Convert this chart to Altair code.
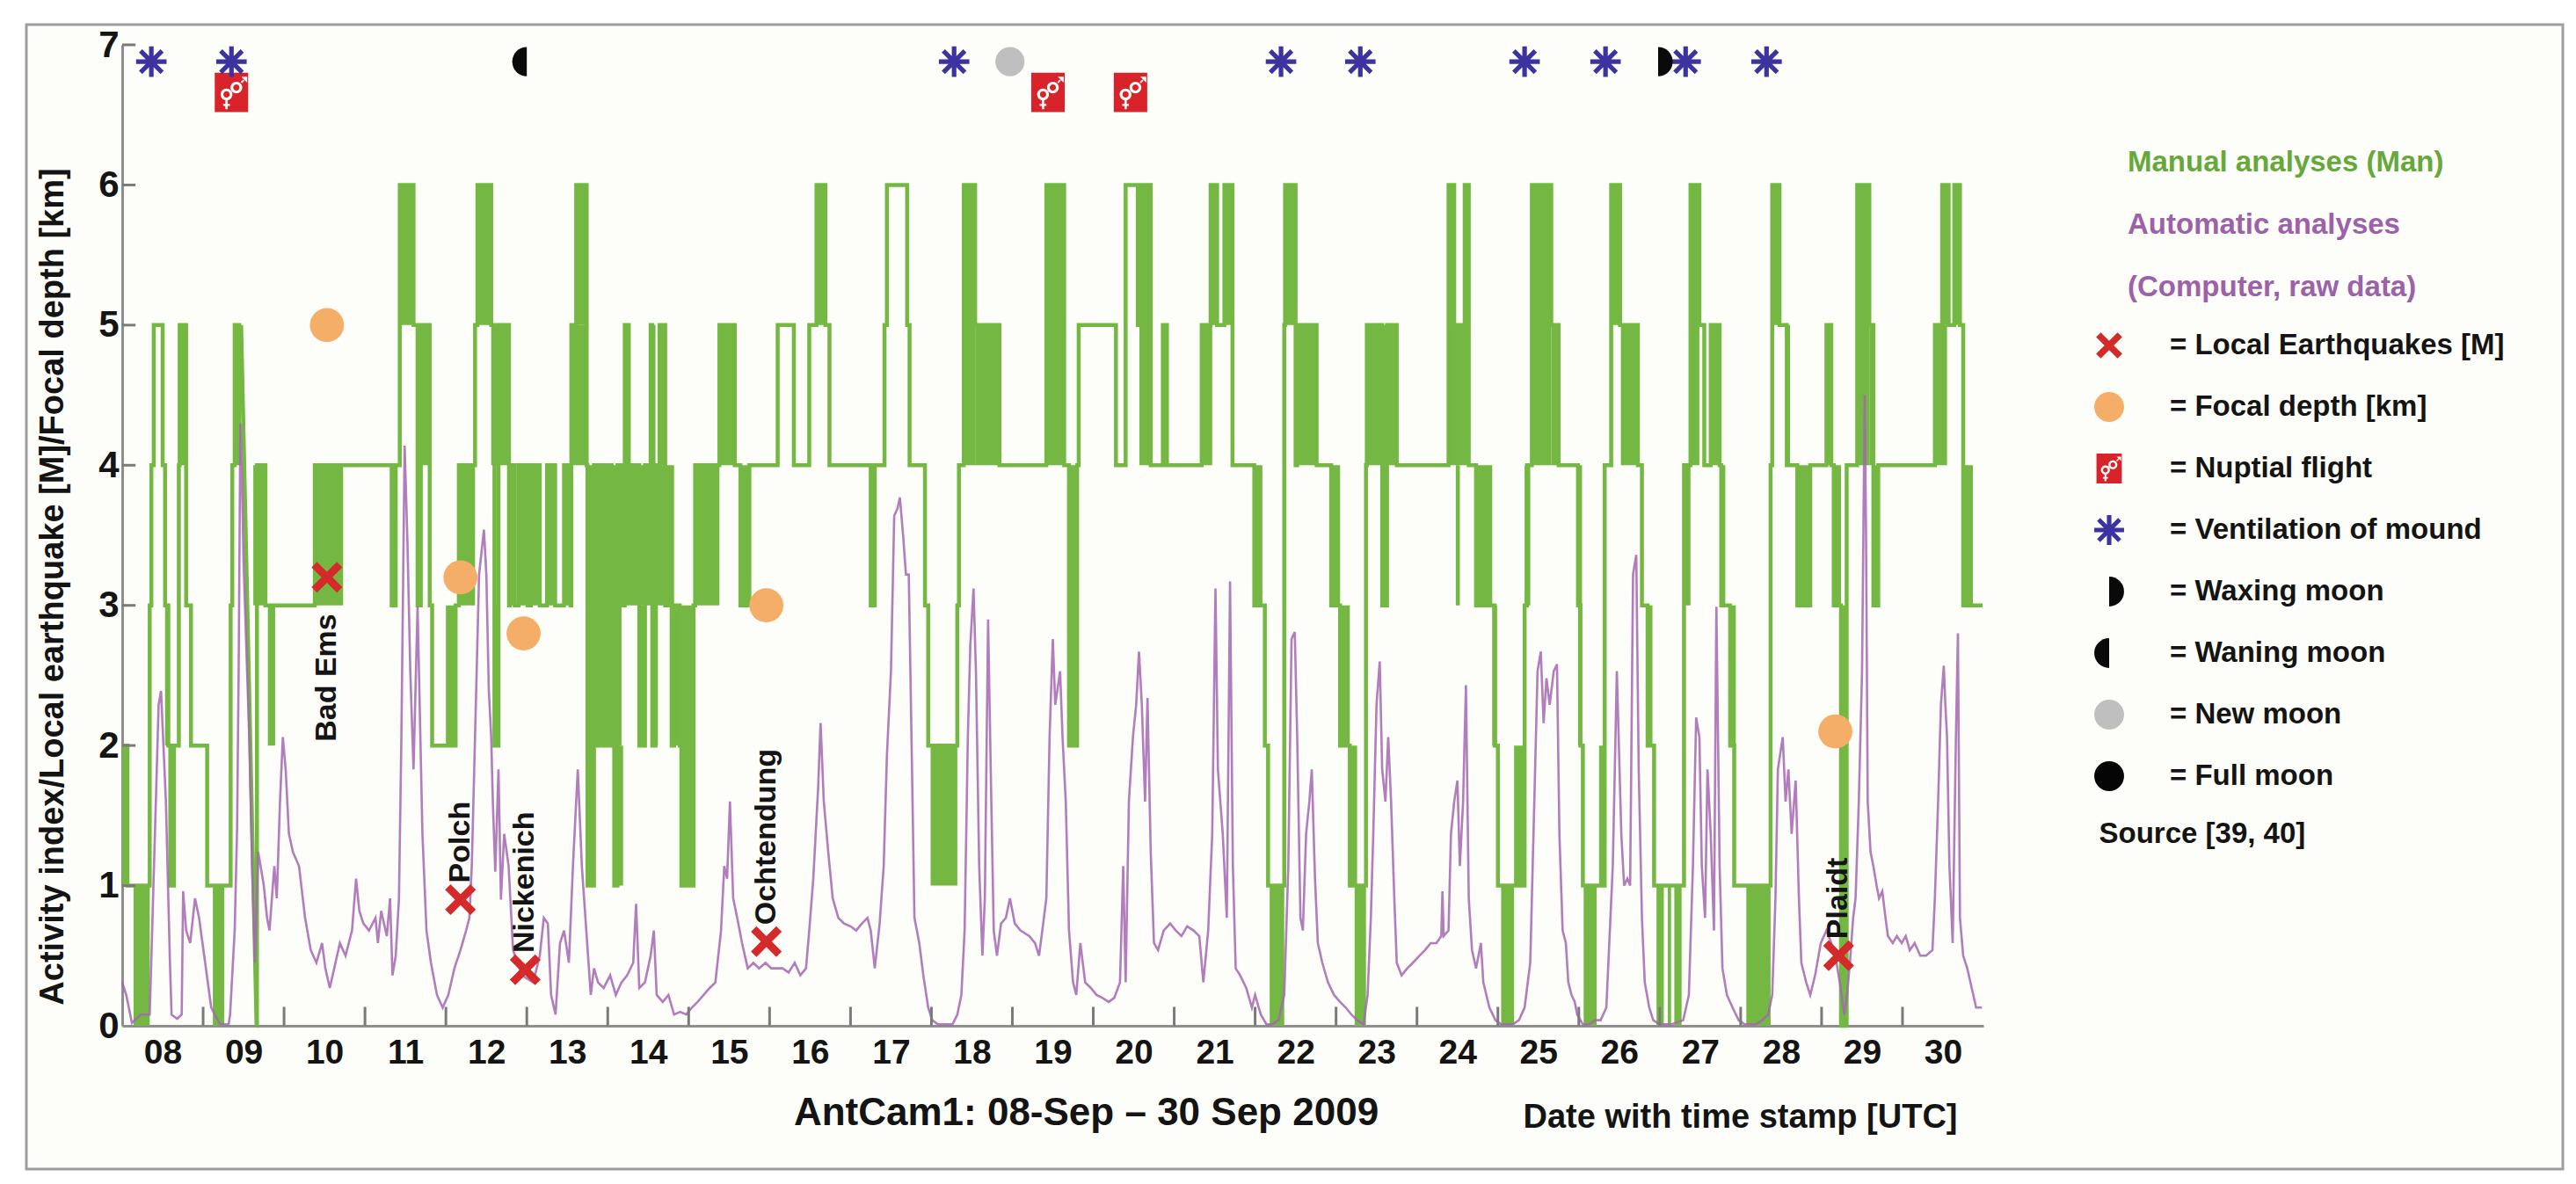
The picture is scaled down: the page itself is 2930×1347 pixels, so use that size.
import altair as alt
import pandas as pd

FONT = "Liberation Sans, Arial, Helvetica, sans-serif"
GREEN = "#74b843"
PURPLE = "#a466b1"
GREEN_TXT = "#67a83b"
PURPLE_TXT = "#9c62a9"
INK = "#141414"
GREY = "#8e8e8e"
TICK_GREY = "#7a7a7a"

# ---------------- data (x = day of September 2009, fractional) ----------------
# Manual analyses: change points of the step curve (day, level)
MAN_A = [(8.00, 2), (8.065, 1), (8.34, 3), (8.36, 4), (8.39, 5), (8.50, 4), (8.53, 3),
         (8.57, 2), (8.60, 1), (8.64, 2), (8.70, 4), (8.71, 5), (8.79, 3), (8.85, 2),
         (9.05, 1), (9.34, 3), (9.36, 4), (9.39, 5), (9.47, 5)]
MAN_RAMP = [(9.47, 5), (9.66, 0)]
MAN_B = [(9.66, 0), (9.665, 4), (9.77, 3), (10.38, 4), (11.33, 3), (11.38, 4), (11.43, 6),
         (11.60, 5), (11.65, 3), (11.69, 5), (11.80, 3), (11.83, 2), (12.12, 3), (12.16, 4),
         (12.36, 5), (12.39, 6), (12.56, 5), (12.60, 2), (12.65, 5), (12.78, 3), (12.79, 4),
         (12.85, 3), (12.90, 4), (13.01, 3), (13.05, 4), (13.16, 3), (13.25, 4), (13.35, 3),
         (13.46, 4), (13.54, 3), (13.55, 5), (13.61, 6), (13.74, 4), (13.75, 1), (13.83, 4),
         (13.86, 2), (13.90, 4), (13.95, 2), (14.00, 4), (14.05, 2), (14.08, 1), (14.12, 4),
         (14.17, 3), (14.21, 5), (14.26, 4), (14.39, 2), (14.46, 4), (14.53, 5), (14.55, 2),
         (14.59, 4), (14.64, 5), (14.71, 3), (14.79, 2), (14.82, 3), (14.89, 2), (14.91, 1),
         (15.06, 3), (15.08, 4), (15.38, 5), (15.57, 4), (15.64, 3), (15.75, 4), (16.10, 5),
         (16.30, 4), (16.49, 5), (16.58, 6), (16.69, 5), (16.74, 4), (17.25, 3), (17.30, 4),
         (17.42, 5), (17.45, 6), (17.70, 5), (17.73, 4), (17.92, 3), (17.96, 2), (18.32, 3),
         (18.34, 4), (18.40, 6), (18.54, 5), (18.84, 4), (19.42, 6), (19.64, 4), (19.70, 2),
         (19.80, 4), (19.82, 5), (20.28, 4), (20.40, 6), (20.55, 5), (20.58, 6), (20.71, 4),
         (20.86, 5), (20.91, 4), (21.34, 5), (21.45, 6), (21.53, 5), (21.62, 6), (21.72, 4),
         (21.99, 3), (22.12, 2), (22.16, 1), (22.36, 5), (22.37, 6), (22.50, 4), (22.52, 5),
         (22.76, 4), (22.94, 3), (23.05, 2), (23.17, 1), (23.37, 4), (23.38, 5), (23.57, 3),
         (23.63, 5), (23.75, 4), (24.39, 6), (24.46, 5), (24.59, 6), (24.64, 4), (24.73, 3),
         (24.96, 2), (25.00, 1), (25.33, 3), (25.36, 4), (25.42, 6), (25.66, 5), (25.75, 4),
         (25.99, 3), (26.02, 2), (26.05, 1), (26.32, 4), (26.40, 6), (26.51, 5), (26.73, 4),
         (26.78, 3), (26.85, 2), (26.93, 1), (27.30, 4), (27.38, 6), (27.49, 5), (27.55, 4),
         (27.63, 5), (27.74, 4), (27.76, 3), (27.87, 2), (27.92, 1), (28.37, 4), (28.39, 6),
         (28.48, 5), (28.57, 4), (28.70, 3), (28.86, 4), (29.06, 5), (29.12, 4), (29.15, 3),
         (29.24, 0), (29.31, 4), (29.44, 6), (29.59, 5), (29.64, 3), (29.70, 4), (30.40, 5),
         (30.49, 6), (30.57, 5), (30.64, 6), (30.71, 5), (30.75, 3), (30.99, 3)]
# Manual analyses: stretches of rapid switching between two levels (start, end, low, high)
MAN_BANDS = [(8.00, 8.065, 1, 2), (8.14, 8.34, 0, 1), (8.53, 8.58, 2, 3), (8.57, 8.64, 1, 2),
             (8.71, 8.79, 4, 5), (9.12, 9.26, 0, 1), (9.39, 9.47, 4, 5), (9.62, 9.77, 3, 4),
             (9.80, 9.89, 2, 3), (10.38, 10.73, 3, 4), (11.33, 11.38, 3, 4), (11.43, 11.60, 5, 6),
             (11.65, 11.69, 3, 4), (11.69, 11.80, 4, 5), (12.00, 12.12, 2, 3), (12.16, 12.36, 3, 4),
             (12.39, 12.56, 5, 6), (12.56, 12.78, 4, 5), (12.60, 12.65, 2, 3), (12.79, 12.85, 3, 4),
             (12.90, 13.01, 3, 4), (13.05, 13.16, 3, 4), (13.25, 13.35, 3, 4), (13.46, 13.54, 3, 4),
             (13.55, 13.74, 4, 5), (13.61, 13.74, 5, 6), (13.75, 13.83, 1, 4), (13.83, 14.17, 2, 4),
             (14.08, 14.19, 1, 2), (14.17, 14.82, 3, 4), (14.21, 14.26, 4, 5), (14.39, 14.46, 2, 3),
             (14.53, 14.59, 4, 5), (14.55, 14.62, 2, 3), (14.64, 14.71, 4, 5), (14.79, 14.89, 2, 3),
             (14.91, 15.06, 1, 3), (15.08, 15.38, 3, 4), (15.38, 15.57, 4, 5), (15.64, 15.75, 3, 4),
             (16.58, 16.69, 5, 6), (17.25, 17.30, 3, 4), (17.99, 18.32, 1, 2), (18.40, 18.54, 4, 6),
             (18.54, 18.84, 4, 5), (19.42, 19.64, 4, 6), (19.70, 19.80, 2, 4), (20.57, 20.70, 4, 6),
             (20.86, 20.91, 4, 5), (21.34, 21.47, 4, 5), (21.45, 21.53, 5, 6), (21.62, 21.72, 5, 6),
             (21.99, 22.09, 3, 4), (22.18, 22.36, 0, 1), (22.36, 22.50, 5, 6), (22.52, 22.76, 4, 5),
             (22.94, 23.05, 3, 4), (23.05, 23.17, 2, 3), (23.15, 23.26, 1, 2), (23.23, 23.37, 0, 1),
             (23.38, 23.75, 4, 5), (23.57, 23.63, 3, 4), (24.39, 24.46, 4, 6), (24.46, 24.64, 4, 5),
             (24.59, 24.64, 5, 6), (24.48, 24.53, 3, 4), (24.73, 24.93, 3, 4), (24.93, 24.99, 2, 3),
             (25.04, 25.20, 0, 1), (25.20, 25.33, 1, 2), (25.33, 25.40, 3, 4), (25.42, 25.66, 4, 6),
             (25.66, 25.75, 4, 5), (25.99, 26.04, 2, 4), (26.06, 26.22, 0, 1), (26.25, 26.32, 1, 2),
             (26.40, 26.51, 5, 6), (26.52, 26.73, 4, 5), (26.85, 26.91, 2, 3), (26.96, 27.05, 0, 1),
             (27.10, 27.14, 0, 1), (27.18, 27.27, 0, 1), (27.30, 27.38, 3, 4), (27.38, 27.49, 4, 6),
             (27.63, 27.74, 4, 5), (27.76, 27.81, 3, 4), (27.87, 27.94, 2, 3), (28.07, 28.37, 0, 1),
             (28.37, 28.39, 3, 4), (28.39, 28.48, 5, 6), (28.57, 28.61, 4, 5), (28.70, 28.86, 3, 4),
             (29.06, 29.12, 4, 5), (29.15, 29.24, 3, 4), (29.24, 29.31, 0, 3), (29.44, 29.59, 4, 6),
             (29.59, 29.64, 4, 5), (29.64, 29.70, 3, 4), (30.40, 30.55, 4, 5), (30.49, 30.57, 5, 6),
             (30.64, 30.71, 5, 6), (30.75, 30.87, 3, 4)]

# Automatic analyses (computer, raw data): (day, activity index)
AUTO = [(8.00, 0.31), (8.05, 0.22), (8.12, 0.02), (8.23, 0.08), (8.34, 0.08), (8.37, 0.68), (8.45, 2.29),
        (8.48, 2.39), (8.54, 1.60), (8.59, 0.45), (8.61, 0.08), (8.68, 0.05), (8.735, 0.08), (8.753, 0.96),
        (8.79, 0.68), (8.84, 0.59), (8.90, 0.91), (8.95, 0.77), (9.025, 0.45), (9.10, 0.13), (9.21, 0.01),
        (9.315, 0.01), (9.333, 0.08), (9.39, 0.68), (9.42, 1.42), (9.44, 2.6), (9.46, 4.3), (9.48, 3.9),
        (9.50, 3.3), (9.57, 2.06), (9.605, 1.14), (9.64, 0.45), (9.68, 1.24), (9.71, 1.14), (9.75, 1.0),
        (9.79, 0.77), (9.82, 0.68), (9.88, 1.14), (9.91, 0.91), (9.95, 1.60), (9.985, 2.06), (10.02, 1.83),
        (10.06, 1.37), (10.11, 1.24), (10.185, 1.14), (10.26, 0.77), (10.33, 0.54), (10.40, 0.45),
        (10.47, 0.59), (10.51, 0.41), (10.565, 0.27), (10.62, 0.41), (10.69, 0.59), (10.76, 0.50),
        (10.84, 0.68), (10.89, 1.05), (10.93, 0.82), (10.98, 0.73), (11.05, 0.68), (11.13, 0.77),
        (11.16, 0.59), (11.20, 0.82), (11.27, 0.64), (11.31, 0.91), (11.34, 0.36), (11.38, 0.50),
        (11.42, 0.91), (11.45, 2.06), (11.49, 4.14), (11.525, 3.45), (11.56, 2.53), (11.60, 1.83),
        (11.65, 2.99), (11.71, 1.37), (11.76, 0.68), (11.815, 0.45), (11.89, 0.22), (11.96, 0.13),
        (12.03, 0.22), (12.105, 0.41), (12.18, 0.54), (12.25, 0.68), (12.29, 0.77), (12.32, 1.14),
        (12.36, 2.06), (12.41, 3.22), (12.47, 3.54), (12.50, 3.22), (12.53, 2.40), (12.56, 2.06),
        (12.58, 1.60), (12.61, 1.10), (12.65, 1.83), (12.68, 0.90), (12.72, 1.37), (12.775, 1.14),
        (12.83, 0.54), (12.94, 0.36), (13.08, 0.31), (13.16, 0.50), (13.21, 0.77), (13.26, 0.73),
        (13.30, 0.22), (13.355, 0.08), (13.41, 0.59), (13.46, 0.68), (13.52, 0.45), (13.57, 1.14),
        (13.63, 1.83), (13.68, 1.14), (13.735, 0.68), (13.79, 0.22), (13.83, 0.41), (13.88, 0.31),
        (13.95, 0.27), (14.03, 0.36), (14.10, 0.22), (14.17, 0.31), (14.24, 0.36), (14.315, 0.45),
        (14.35, 0.87), (14.39, 0.27), (14.46, 0.31), (14.53, 0.50), (14.57, 0.68), (14.605, 0.22),
        (14.68, 0.17), (14.75, 0.22), (14.82, 0.08), (14.895, 0.10), (14.97, 0.08), (15.04, 0.13),
        (15.11, 0.17), (15.185, 0.22), (15.26, 0.27), (15.33, 0.31), (15.40, 0.68), (15.44, 1.14),
        (15.475, 1.05), (15.51, 1.60), (15.55, 0.91), (15.60, 0.77), (15.66, 0.59), (15.73, 0.41),
        (15.80, 0.45), (15.87, 0.41), (15.95, 0.45), (16.02, 0.41), (16.09, 0.41), (16.16, 0.41),
        (16.235, 0.38), (16.31, 0.45), (16.38, 0.36), (16.45, 0.41), (16.49, 0.68), (16.54, 1.05),
        (16.60, 1.70), (16.63, 2.16), (16.67, 1.60), (16.725, 1.24), (16.78, 0.91), (16.85, 0.77),
        (16.92, 0.73), (17.00, 0.71), (17.07, 0.68), (17.14, 0.73), (17.21, 0.77), (17.25, 0.68),
        (17.30, 0.41), (17.36, 0.73), (17.41, 1.14), (17.45, 1.93), (17.50, 2.53), (17.54, 3.64),
        (17.58, 3.69), (17.61, 3.77), (17.65, 3.50), (17.685, 3.22), (17.72, 3.22), (17.76, 1.83),
        (17.79, 0.77), (17.85, 0.59), (17.90, 0.36), (17.96, 0.13), (18.01, 0.04), (18.08, 0.01),
        (18.19, 0.01), (18.26, 0.01), (18.32, 0.08), (18.37, 0.22), (18.41, 0.68), (18.45, 2.06),
        (18.48, 2.71), (18.52, 3.12), (18.55, 2.53), (18.59, 1.14), (18.63, 0.50), (18.66, 0.91),
        (18.70, 2.90), (18.74, 1.60), (18.77, 0.68), (18.81, 0.50), (18.86, 0.73), (18.92, 0.77),
        (18.97, 0.91), (19.03, 0.73), (19.10, 0.68), (19.21, 0.64), (19.28, 0.59), (19.33, 0.50),
        (19.37, 0.68), (19.42, 0.91), (19.46, 2.06), (19.50, 2.76), (19.53, 2.29), (19.59, 2.53),
        (19.62, 2.06), (19.66, 1.60), (19.70, 0.68), (19.75, 0.31), (19.79, 0.22), (19.84, 0.59),
        (19.90, 0.31), (19.97, 0.27), (20.04, 0.22), (20.11, 0.20), (20.19, 0.17), (20.26, 0.20),
        (20.33, 0.31), (20.37, 1.14), (20.40, 0.31), (20.44, 1.60), (20.49, 2.06), (20.53, 2.29),
        (20.565, 2.67), (20.60, 2.29), (20.64, 1.60), (20.67, 2.34), (20.71, 1.24), (20.75, 0.59),
        (20.80, 0.54), (20.87, 0.68), (20.95, 0.73), (21.02, 0.68), (21.09, 0.64), (21.16, 0.71),
        (21.24, 0.68), (21.31, 0.64), (21.36, 0.31), (21.42, 0.68), (21.47, 1.37), (21.51, 3.12),
        (21.54, 1.83), (21.60, 1.37), (21.65, 0.77), (21.69, 3.17), (21.725, 1.14), (21.76, 0.41),
        (21.815, 0.36), (21.89, 0.27), (21.96, 0.13), (22.00, 0.22), (22.07, 0.08), (22.14, 0.01),
        (22.21, 0.01), (22.29, 0.04), (22.36, 0.22), (22.41, 1.14), (22.45, 2.76), (22.49, 2.81),
        (22.52, 2.06), (22.56, 0.77), (22.59, 0.68), (22.63, 1.37), (22.67, 1.60), (22.70, 1.83),
        (22.74, 1.05), (22.775, 0.59), (22.83, 0.45), (22.90, 0.31), (22.975, 0.22), (23.05, 0.17),
        (23.12, 0.13), (23.19, 0.08), (23.26, 0.04), (23.34, 0.01), (23.39, 0.22), (23.43, 0.77),
        (23.46, 1.37), (23.50, 2.29), (23.54, 2.60), (23.57, 1.83), (23.61, 1.60), (23.645, 2.06),
        (23.68, 1.60), (23.72, 0.91), (23.75, 0.45), (23.81, 0.36), (23.88, 0.41), (23.95, 0.45),
        (24.03, 0.50), (24.10, 0.54), (24.17, 0.59), (24.24, 0.59), (24.30, 0.64), (24.315, 0.96),
        (24.33, 0.64), (24.39, 0.68), (24.42, 1.37), (24.46, 1.60), (24.50, 1.75), (24.53, 1.14),
        (24.57, 1.60), (24.605, 2.43), (24.64, 0.91), (24.68, 0.54), (24.73, 0.41), (24.79, 0.59),
        (24.82, 0.31), (24.895, 0.13), (24.97, 0.04), (25.04, 0.01), (25.11, 0.01), (25.185, 0.01),
        (25.26, 0.04), (25.33, 0.13), (25.40, 0.45), (25.46, 1.83), (25.49, 2.53), (25.53, 2.67),
        (25.565, 2.16), (25.60, 2.48), (25.64, 2.29), (25.69, 2.53), (25.73, 2.58), (25.76, 1.37),
        (25.80, 0.68), (25.84, 0.59), (25.87, 0.31), (25.91, 0.22), (25.95, 0.17), (25.98, 0.08),
        (26.05, 0.01), (26.13, 0.01), (26.20, 0.04), (26.27, 0.04), (26.34, 0.13), (26.42, 1.14),
        (26.47, 2.53), (26.525, 1.37), (26.56, 1.00), (26.60, 1.05), (26.634, 1.00), (26.67, 3.22),
        (26.71, 3.36), (26.74, 1.83), (26.78, 0.77), (26.815, 0.31), (26.87, 0.13), (26.92, 0.04),
        (27.00, 0.01), (27.14, 0.01), (27.29, 0.04), (27.36, 0.22), (27.41, 1.14), (27.45, 2.20),
        (27.49, 2.06), (27.52, 1.14), (27.56, 0.77), (27.59, 1.83), (27.63, 1.37), (27.67, 0.68),
        (27.70, 2.99), (27.74, 1.14), (27.775, 0.41), (27.83, 0.22), (27.90, 0.13), (27.975, 0.04),
        (28.05, 0.01), (28.19, 0.01), (28.265, 0.04), (28.34, 0.08), (28.39, 0.22), (28.43, 0.91),
        (28.46, 1.83), (28.52, 2.06), (28.555, 1.60), (28.59, 1.83), (28.63, 1.37), (28.68, 1.75),
        (28.72, 0.91), (28.75, 0.45), (28.81, 0.31), (28.86, 0.22), (28.92, 0.36), (28.99, 0.59),
        (29.06, 0.68), (29.12, 0.59), (29.17, 0.50), (29.225, 0.31), (29.28, 0.08), (29.315, 0.22),
        (29.35, 0.45), (29.39, 0.77), (29.42, 0.91), (29.46, 1.60), (29.50, 2.53), (29.533, 4.50),
        (29.55, 3.45), (29.57, 1.60), (29.605, 1.24), (29.64, 1.14), (29.68, 1.00), (29.71, 0.91),
        (29.75, 0.96), (29.79, 0.77), (29.82, 0.64), (29.88, 0.59), (29.93, 0.64), (29.99, 0.59),
        (30.04, 0.64), (30.09, 0.54), (30.15, 0.59), (30.22, 0.50), (30.29, 0.50), (30.37, 0.54),
        (30.40, 0.91), (30.44, 1.60), (30.475, 2.29), (30.51, 2.57), (30.53, 2.29), (30.55, 2.06),
        (30.58, 1.14), (30.62, 0.59), (30.66, 2.06), (30.685, 2.80), (30.71, 0.77), (30.75, 0.50),
        (30.80, 0.41), (30.855, 0.27), (30.91, 0.13), (30.98, 0.13)]

QUAKE_SITE = ["Bad Ems", "Polch", "Nickenich", "Ochtendung", "Plaidt"]
QUAKE_T = [10.53, 12.18, 12.98, 15.96, 29.21]
QUAKE_M = [3.2, 0.9, 0.4, 0.6, 0.5]
QUAKE_LABEL_SIDE = ["below", "above", "above", "above", "above"]
DEPTH_T = [10.53, 12.18, 12.96, 15.96, 29.17]
DEPTH_KM = [5.0, 3.2, 2.8, 3.0, 2.1]
VENT_T = [8.36, 9.35, 18.28, 22.32, 23.30, 25.33, 26.33, 27.32, 28.32]
NUPTIAL_T = [9.35, 19.44, 20.46]
MOON_T = [13.0, 18.97, 26.98]
MOON_PHASE = ["= Waning moon", "= New moon", "= Waxing moon"]

SERIES = ["Manual analyses (Man)", "Automatic analyses", "(Computer, raw data)"]
KINDS = ["= Local Earthquakes [M]", "= Focal depth [km]", "= Nuptial flight",
         "= Ventilation of mound", "= Waxing moon", "= Waning moon", "= New moon", "= Full moon"]
DAY_TICKS = list(range(9, 31))
DAY_LABELS = [d + 0.5 for d in range(8, 31)]
Y_TICKS = list(range(0, 8))

# ---------------- symbols ----------------
XMARK = ("M-0.876,-0.564L-0.564,-0.876L0.876,0.564L0.564,0.876Z "
         "M-0.564,0.876L-0.876,0.564L0.564,-0.876L0.876,-0.564Z")
STAR = ("M-1,-0.15H1V0.15H-1Z M-0.15,-1H0.15V1H-0.15Z "
        "M-0.813,-0.601L-0.601,-0.813L0.813,0.601L0.601,0.813Z "
        "M-0.601,0.813L-0.813,0.601L0.601,-0.813L0.813,-0.601Z")
NUPTIAL = ("M-0.85,-1H0.85V1H-0.85Z "
           "M-0.55,0.1A0.3,0.3 0 1,0 0.05,0.1A0.3,0.3 0 1,0 -0.55,0.1Z "
           "M-0.41,0.1A0.16,0.16 0 1,1 -0.09,0.1A0.16,0.16 0 1,1 -0.41,0.1Z "
           "M-0.31,0.4V0.58H-0.19V0.4Z M-0.42,0.58V0.68H-0.08V0.58Z M-0.31,0.68V0.85H-0.19V0.68Z "
           "M-0.05,-0.25A0.3,0.3 0 1,0 0.55,-0.25A0.3,0.3 0 1,0 -0.05,-0.25Z "
           "M0.09,-0.25A0.16,0.16 0 1,1 0.41,-0.25A0.16,0.16 0 1,1 0.09,-0.25Z "
           "M0.47,-0.53L0.53,-0.47L0.66,-0.6L0.6,-0.66Z M0.5,-0.8L0.8,-0.5L0.8,-0.8Z")
WAXING = "M0,-1A1,1 0 0,1 0,1Z"
WANING = "M0,-1A1,1 0 0,0 0,1Z"

KIND_COLORS = ["#d42a2a", "#f4ae68", "#d8232a", "#3d33a0", "#0a0a0a", "#0a0a0a", "#bfbfbf", "#050505"]
KIND_SHAPES = [XMARK, "circle", NUPTIAL, STAR, WAXING, WANING, "circle", "circle"]

# ---------------- tables ----------------
man_df = pd.DataFrame(
    [{"t": t, "v": v, "seg": "a", "series": SERIES[0]} for t, v in MAN_A]
    + [{"t": t, "v": v, "seg": "b", "series": SERIES[0]} for t, v in MAN_B]
)
ramp_df = pd.DataFrame([{"t": t, "v": v} for t, v in MAN_RAMP])
band_df = pd.DataFrame([{"t0": a, "t1": b, "lo": lo, "hi": hi} for a, b, lo, hi in MAN_BANDS])
auto_df = pd.DataFrame([{"t": t, "v": v, "series": SERIES[1]} for t, v in AUTO])
xtick_df = pd.DataFrame({"t": DAY_TICKS})
ytick_df = pd.DataFrame({"v": Y_TICKS[1:]})

TOP_ROW = 6.88
NUPT_ROW = 6.66
quake_df = pd.DataFrame({"t": QUAKE_T, "y": QUAKE_M, "kind": KINDS[0]})
depth_df = pd.DataFrame({"t": DEPTH_T, "y": DEPTH_KM, "kind": KINDS[1]})
nupt_df = pd.DataFrame({"t": NUPTIAL_T, "y": NUPT_ROW, "kind": KINDS[2]})
vent_df = pd.DataFrame({"t": VENT_T, "y": TOP_ROW, "kind": KINDS[3]})
moon_df = pd.DataFrame({"t": MOON_T, "y": TOP_ROW, "kind": MOON_PHASE})
site_df = pd.DataFrame({"t": QUAKE_T, "m": QUAKE_M, "site": QUAKE_SITE, "side": QUAKE_LABEL_SIDE})
site_df["ly"] = [m - 0.26 if s == "below" else m + 0.12 for m, s in zip(site_df["m"], site_df["side"])]

# ---------------- scales, axes, legends ----------------
W, H = 2885, 1302
XS = alt.Scale(domain=[8, 31], range=[109, 2226], nice=False, zero=False)
YS = alt.Scale(domain=[0, 7], range=[1139, 23], nice=False, zero=False)
STROKE = alt.Scale(domain=SERIES, range=[GREEN, PURPLE, PURPLE])
KCOL = alt.Scale(domain=KINDS, range=KIND_COLORS)
KSHP = alt.Scale(domain=KINDS, range=KIND_SHAPES)

bottom_axis = alt.Axis(
    orient="bottom", offset=-163, values=DAY_LABELS,
    labelExpr="(floor(datum.value) < 10 ? '0' : '') + floor(datum.value)",
    ticks=False, tickSize=0, grid=False, domain=True, domainColor=GREY, domainWidth=3,
    labelFont=FONT, labelFontSize=39, labelFontWeight="bold", labelColor=INK, labelPadding=11,
    labelFlush=False, labelOverlap=False,
    title="AntCam1:  08-Sep \u2013 30 Sep 2009", titleX=1205, titleY=99, titleFont=FONT,
    titleFontSize=44, titleFontWeight="bold", titleColor=INK, titleAlign="center",
    titleBaseline="middle",
)
top_axis = alt.Axis(
    orient="top", offset=-1139, values=DAY_TICKS, labels=False, domain=False, grid=False,
    ticks=False,
    title="Date with time stamp [UTC]", titleX=1949, titleY=104, titleFont=FONT,
    titleFontSize=38, titleFontWeight="bold", titleColor=INK, titleAlign="center",
    titleBaseline="middle", titleAngle=0,
)
left_axis = alt.Axis(
    orient="left", offset=-109, values=Y_TICKS, ticks=False, tickSize=0, grid=False,
    domain=True, domainColor=GREY, domainWidth=3, labelFont=FONT, labelFontSize=42,
    labelFontWeight="bold", labelColor=INK, labelPadding=4, labelFlush=False,
    title="Activity index/Local earthquake [M]/Focal depth [km]", titleX=-79, titleY=639,
    titleAngle=270, titleAlign="center", titleBaseline="middle", titleFont=FONT,
    titleFontSize=38, titleFontWeight="bold", titleColor=INK,
)
right_axis = alt.Axis(
    orient="right", offset=109 - W, values=Y_TICKS, labels=False, domain=False, grid=False,
    ticks=False,
    title="Source [39, 40]", titleX=2248, titleY=920, titleAngle=0, titleAlign="left",
    titleBaseline="middle", titleFont=FONT, titleFontSize=33, titleFontWeight="bold",
    titleColor=INK,
)
header_legend = alt.Legend(
    orient="none", legendX=2357, legendY=140, title=None, symbolOpacity=0, symbolSize=0,
    symbolStrokeWidth=0, labelOffset=0, labelFont=FONT, labelFontSize=33,
    labelFontWeight="bold", labelLimit=900, rowPadding=37, padding=0,
    labelColor={"expr": "datum.value === 'Manual analyses (Man)' ? '%s' : '%s'" % (GREEN_TXT, PURPLE_TXT)},
)
sym_legend = alt.Legend(
    orient="none", legendX=2352, legendY=348, title=None, symbolSize=1150,
    symbolStrokeWidth=0, labelOffset=52, labelFont=FONT, labelFontSize=33,
    labelFontWeight="bold", labelColor=INK, labelLimit=900, rowPadding=36, padding=0,
)

# ---------------- layers ----------------
bands = alt.Chart(band_df).mark_rect(color=GREEN, strokeWidth=0).encode(
    x=alt.X("t0:Q", scale=XS, axis=None), x2="t1:Q",
    y=alt.Y("lo:Q", scale=YS, axis=None), y2="hi:Q",
)
man_line = alt.Chart(man_df).mark_line(interpolate="step-after", strokeWidth=4.5).encode(
    x=alt.X("t:Q", scale=XS, axis=bottom_axis),
    y=alt.Y("v:Q", scale=YS, axis=left_axis),
    stroke=alt.Stroke("series:N", scale=STROKE, legend=header_legend),
    detail="seg:N",
)
ramp = alt.Chart(ramp_df).mark_line(color=GREEN, strokeWidth=4.5).encode(
    x=alt.X("t:Q", scale=XS, axis=None), y=alt.Y("v:Q", scale=YS, axis=None),
)
auto_line = alt.Chart(auto_df).mark_line(strokeWidth=2.6, opacity=0.85).encode(
    x=alt.X("t:Q", scale=XS, axis=top_axis),
    y=alt.Y("v:Q", scale=YS, axis=right_axis),
    stroke=alt.Stroke("series:N", scale=STROKE, legend=header_legend),
)
# inward tick marks (midnight of each day on x, integer levels on y)
xticks = alt.Chart(xtick_df).mark_rule(color=TICK_GREY, strokeWidth=3).encode(
    x=alt.X("t:Q", scale=XS, axis=None),
    y=alt.YDatum(0, type="quantitative", scale=YS, axis=None),
    y2=alt.Y2Datum(0.135),
)
yticks = alt.Chart(ytick_df).mark_rule(color=TICK_GREY, strokeWidth=3).encode(
    y=alt.Y("v:Q", scale=YS, axis=None),
    x=alt.XDatum(8, type="quantitative", scale=XS, axis=None),
    x2=alt.X2Datum(8.165),
)


def markers(df, size):
    return alt.Chart(df).mark_point(filled=True, size=size, opacity=1, strokeWidth=0).encode(
        x=alt.X("t:Q", scale=XS, axis=None),
        y=alt.Y("y:Q", scale=YS, axis=None),
        color=alt.Color("kind:N", scale=KCOL, legend=sym_legend),
        shape=alt.Shape("kind:N", scale=KSHP, legend=sym_legend),
    )


label_style = dict(angle=270, baseline="middle", font=FONT, fontSize=34, fontWeight="bold", color=INK)
labels_above = alt.Chart(site_df).transform_filter("datum.side === 'above'").mark_text(
    align="left", **label_style).encode(
    x=alt.X("t:Q", scale=XS, axis=None), y=alt.Y("ly:Q", scale=YS, axis=None), text="site:N")
labels_below = alt.Chart(site_df).transform_filter("datum.side === 'below'").mark_text(
    align="right", **label_style).encode(
    x=alt.X("t:Q", scale=XS, axis=None), y=alt.Y("ly:Q", scale=YS, axis=None), text="site:N")

chart = alt.layer(
    bands, man_line, ramp, auto_line, xticks, yticks,
    markers(depth_df, 1500), markers(quake_df, 1600), markers(nupt_df, 2000),
    markers(vent_df, 1200), markers(moon_df, 1100),
    labels_above, labels_below,
).resolve_axis(x="independent", y="independent").properties(
    width=W, height=H, autosize=alt.AutoSizeParams(type="none"),
    padding={"left": 22, "top": 20, "right": 2, "bottom": 4}, background="#ffffff",
).configure_view(stroke="#9d9d9d", strokeWidth=3, fill="#fdfdf9")

chart.save("out.html", embed_options={"renderer": "svg", "actions": False})
